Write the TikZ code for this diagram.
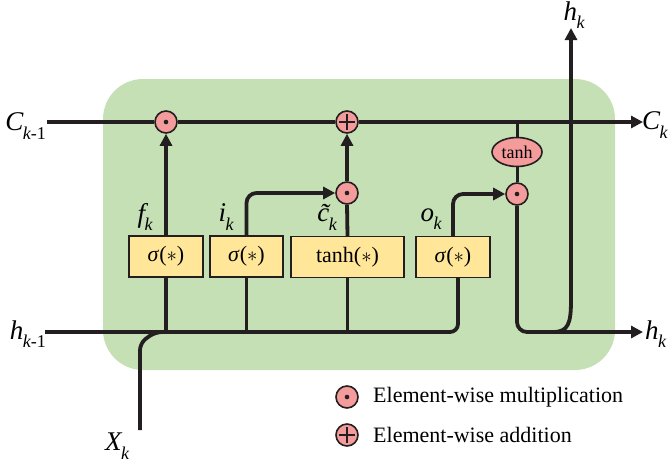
\documentclass[tikz,border=0pt]{standalone}
\usepackage{fontspec}
\setmainfont{Liberation Serif}
\usetikzlibrary{arrows.meta,shapes.geometric}
\definecolor{cellgreen}{HTML}{C5E0B4}
\definecolor{gatefill}{HTML}{FFE699}
\definecolor{opfill}{HTML}{F49B9B}
\definecolor{ink}{HTML}{231F20}
\newcommand{\varlab}[2]{#1\kern-0.5pt\raisebox{-0.32em}{\fontsize{18}{18}\selectfont #2}}
\begin{document}
\begin{tikzpicture}[x=1pt,y=-1pt,
  flow/.style={line width=3.8pt, draw=ink},
  arr/.style={flow, -{Triangle[length=12pt,width=12pt]}},
  op/.style={circle, draw=ink, line width=1.6pt, fill=opfill, minimum size=22pt, inner sep=0pt},
  mulop/.style={op, path picture={\fill[ink] (path picture bounding box.center) circle (2.3pt);}},
  addop/.style={op, path picture={\draw[ink,line width=1.3pt]
      ([xshift=-8pt]path picture bounding box.center) -- ([xshift=8pt]path picture bounding box.center)
      ([yshift=-8pt]path picture bounding box.center) -- ([yshift=8pt]path picture bounding box.center);}},
  gate/.style={draw=ink, line width=1.2pt, fill=gatefill, minimum height=41pt, inner sep=0pt,
      font=\fontsize{22}{22}\selectfont},
  biglbl/.style={font=\fontsize{27}{27}\selectfont\itshape, inner sep=0pt},
  smalllbl/.style={font=\fontsize{27}{27}\selectfont\itshape, inner sep=0pt},
  legendtext/.style={font=\fontsize{22}{22}\selectfont, inner sep=0pt, anchor=west}
]
\useasboundingbox (0,0) rectangle (668,464);
% cell background
\fill[cellgreen, rounded corners=40pt] (103,79) rectangle (615,370);

% operators
\node[mulop] (m1) at (166,122) {};
\node[addop] (a1) at (347,122) {};
\node[mulop] (m2) at (347,193) {};
\node[mulop] (m3) at (517,194) {};
\node[ellipse, draw=ink, line width=1.6pt, fill=opfill, minimum width=50pt, minimum height=29pt,
      inner sep=0pt, font=\fontsize{18}{18}\selectfont] (th) at (517,152) {tanh};

% gates
\node[gate, minimum width=74pt] (b1) at (166,256.5) {\textit{σ}($\ast$)};
\node[gate, minimum width=73pt] (b2) at (246.5,256.5) {\textit{σ}($\ast$)};
\node[gate, minimum width=113pt] (b3) at (347.5,257) {tanh($\ast$)};
\node[gate, minimum width=74pt] (b4) at (453,257) {\textit{σ}($\ast$)};

% coordinates
\coordinate (cin) at (47,122);
\coordinate (cout) at (643,122);
\coordinate (ct) at (517,122);
\coordinate (hin) at (45,332);
\coordinate (hout) at (643,332);
\coordinate (hj) at (553,332);
\coordinate (htop) at (571,28);
\coordinate (xin) at (140,430);
\coordinate (j1) at (166,332);
\coordinate (j2) at (246.5,332);
\coordinate (j3) at (347.5,332);

% cell state line
\draw[flow] (cin) -- (m1);
\draw[flow] (m1) -- (a1);
\draw[arr] (a1) -- (cout);

% hidden input line
\draw[flow, rounded corners=8pt] (hin) -| ([xshift=5pt]b4.south);
\draw[flow, rounded corners=7pt] (xin) -- (140,343) -- (155,332) -- (j1);
\draw[flow] (b1.south) -- (j1);
\draw[flow] (b2.south) -- (j2);
\draw[flow] (b3.south) -- (j3);

% gate outputs
\draw[arr] (b1.north) -- (m1.south);
\draw[arr, rounded corners=10pt] (b2.north) |- (m2.west);
\draw[flow] (b3.north) -- (m2.south);
\draw[arr] (m2.north) -- (a1.south);
\draw[arr, rounded corners=10pt] (b4.north) |- (m3.west);

% output path
\draw[line width=3pt, draw=ink] (ct) -- (th.north);
\draw[line width=3pt, draw=ink] (th.south) -- (m3.north);
\draw[arr, rounded corners=10pt] (m3.south) |- (hout);
\draw[arr] (hj) .. controls (568,332) and (571,324) .. (571,300) -- (htop);

% labels
\node[biglbl, anchor=east] (lcin) at (46,126) {\varlab{C}{\textit{k}\upshape-1}};
\node[biglbl, anchor=west] (lcout) at (642,125) {\varlab{C}{k}};
\node[biglbl, anchor=east] (lhin) at (46,334) {\varlab{h}{\textit{k}\upshape-1}};
\node[biglbl, anchor=west] (lhout) at (645,334) {\varlab{h}{k}};
\node[biglbl] (lhtop) at (574,15) {\varlab{h}{k}};
\node[biglbl] (lx) at (117,446) {\varlab{X}{k}};
\node[smalllbl] (lf) at (145,217) {\varlab{f}{k}};
\node[smalllbl] (li) at (226,217) {\varlab{i}{k}};
\node[smalllbl] (lc) at (327,217) {\varlab{\~{c}}{k}};
\node[smalllbl] (lo) at (431,219) {\varlab{o}{k}};

% legend
\node[mulop] (gm) at (347,397) {};
\node[addop] (ga) at (347,435) {};
\node[legendtext] (tm) at (373,397) {Element-wise multiplication};
\node[legendtext] (ta) at (373,435) {Element-wise addition};
\end{tikzpicture}
\end{document}
